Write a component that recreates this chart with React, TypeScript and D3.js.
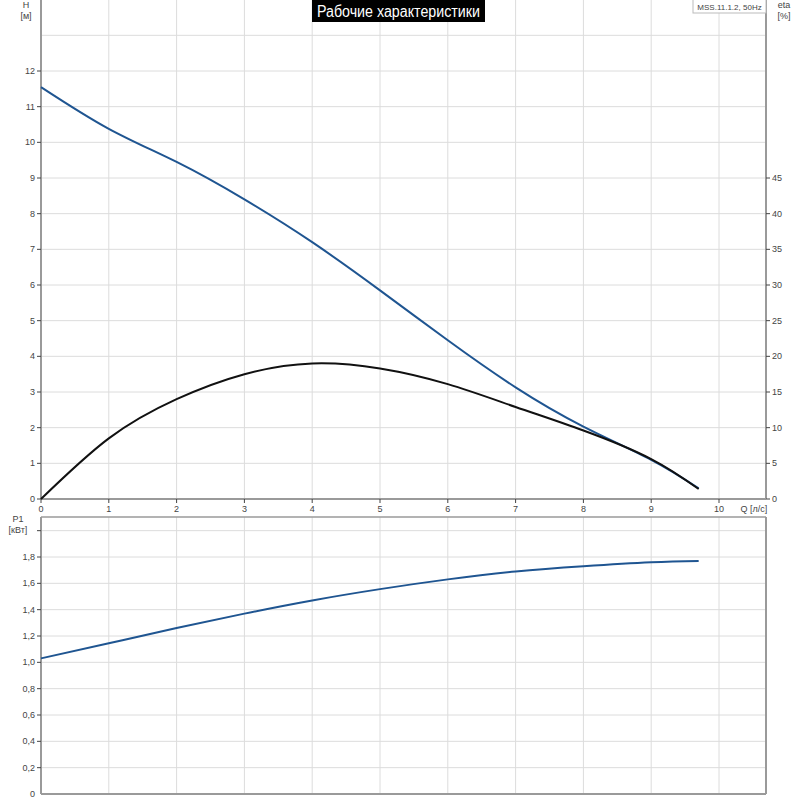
import React from "react";
import * as d3 from "d3";

const qValues = [0, 1, 2, 3, 4, 5, 6, 7, 8, 9, 9.7];
const headValues = [11.55, 10.38, 9.45, 8.4, 7.2, 5.85, 4.45, 3.13, 2.03, 1.1, 0.3];
const etaValues = [0, 8.5, 14.0, 17.5, 19.0, 18.3, 16.1, 12.9, 9.6, 5.6, 1.4];
const p1Values = [1.03, 1.145, 1.26, 1.37, 1.47, 1.556, 1.63, 1.69, 1.73, 1.76, 1.77];

const qTicks = [0, 1, 2, 3, 4, 5, 6, 7, 8, 9, 10];
const hTicks = [0, 1, 2, 3, 4, 5, 6, 7, 8, 9, 10, 11, 12];
const hGrid = [1, 2, 3, 4, 5, 6, 7, 8, 9, 10, 11, 12, 13];
const etaTicks = [0, 5, 10, 15, 20, 25, 30, 35, 40, 45];
const p1Ticks = [0, 0.2, 0.4, 0.6, 0.8, 1.0, 1.2, 1.4, 1.6, 1.8];
const p1Grid = [0.2, 0.4, 0.6, 0.8, 1.0, 1.2, 1.4, 1.6, 1.8, 2.0];

const titleText = "Рабочие характеристики";
const legendText = "MSS.11.1.2, 50Hz";

export default function App() {
  const left = 41;
  const right = 766;
  const x = d3.scaleLinear().domain([0, 10]).range([left, 719]);
  const yH = d3.scaleLinear().domain([0, 12]).range([499, 71]);
  const yEta = d3.scaleLinear().domain([0, 60]).range([499, 71]);
  const yP = d3.scaleLinear().domain([0, 1.8]).range([794, 557]);
  const topTop = 0;
  const botTop = 517;

  const grid = "#dcdcdc";
  const axis = "#9a9a9a";
  const txt = "#444";
  const fs = 9;
  const font = "Liberation Sans, Arial, sans-serif";

  const curve = d3.curveNatural;
  const lineH = d3.line<number>().x((_, i) => x(qValues[i])).y((d) => yH(d)).curve(curve);
  const lineEta = d3.line<number>().x((_, i) => x(qValues[i])).y((d) => yEta(d)).curve(curve);
  const lineP = d3.line<number>().x((_, i) => x(qValues[i])).y((d) => yP(d)).curve(curve);

  const fmt = (v: number) => (v === 0 ? "0" : v.toFixed(1).replace(".", ","));

  return (
    <svg width={800} height={800} style={{ position: "absolute", left: 0, top: 0 }} fontFamily={font}>
      <rect x={0} y={0} width={800} height={800} fill="#fff" />
      {qTicks.filter((q) => q > 0).map((q) => (
        <line key={"vg" + q} x1={x(q)} x2={x(q)} y1={topTop} y2={499} stroke={grid} strokeWidth={1} />
      ))}
      {hGrid.map((h) => (
        <line key={"hg" + h} x1={left} x2={right} y1={yH(h)} y2={yH(h)} stroke={grid} strokeWidth={1} />
      ))}
      {qTicks.filter((q) => q > 0).map((q) => (
        <line key={"vgb" + q} x1={x(q)} x2={x(q)} y1={botTop} y2={794} stroke={grid} strokeWidth={1} />
      ))}
      {p1Grid.map((p) => (
        <line key={"pg" + p} x1={left} x2={right} y1={yP(p)} y2={yP(p)} stroke={grid} strokeWidth={1} />
      ))}
      <line x1={left} x2={right} y1={botTop} y2={botTop} stroke={axis} strokeWidth={1.5} />

      <line x1={left} x2={left} y1={topTop} y2={499} stroke={axis} strokeWidth={2} />
      <line x1={right} x2={right} y1={topTop} y2={499} stroke={axis} strokeWidth={2} />
      <line x1={left} x2={right} y1={499} y2={499} stroke={axis} strokeWidth={2} />
      <line x1={left} x2={left} y1={botTop} y2={794} stroke={axis} strokeWidth={2} />
      <line x1={right} x2={right} y1={botTop} y2={794} stroke={axis} strokeWidth={2} />
      <line x1={left} x2={right} y1={794} y2={794} stroke={axis} strokeWidth={2} />

      {hTicks.map((h) => (
        <g key={"ht" + h}>
          <line x1={left - 4} x2={left} y1={yH(h)} y2={yH(h)} stroke={txt} strokeWidth={1} />
          <text x={left - 6} y={yH(h) + 3} fontSize={fs} textAnchor="end" fill={txt}>{h}</text>
        </g>
      ))}
      {etaTicks.map((e) => (
        <g key={"et" + e}>
          <line x1={right} x2={right + 4} y1={yEta(e)} y2={yEta(e)} stroke={txt} strokeWidth={1} />
          <text x={right + 6} y={yEta(e) + 3} fontSize={fs} textAnchor="start" fill={txt}>{e}</text>
        </g>
      ))}
      {qTicks.map((q) => (
        <g key={"qt" + q}>
          <line x1={x(q)} x2={x(q)} y1={499} y2={503} stroke={txt} strokeWidth={1} />
          <text x={x(q)} y={512} fontSize={fs} textAnchor="middle" fill={txt}>{q}</text>
        </g>
      ))}
      <text x={754} y={512} fontSize={fs} textAnchor="middle" fill={txt}>Q [л/с]</text>
      {p1Grid.map((p) => (
        <line key={"pt" + p} x1={left - 4} x2={left} y1={yP(p)} y2={yP(p)} stroke={txt} strokeWidth={1} />
      ))}
      {p1Ticks.map((p) => (
        <text key={"ptl" + p} x={left - 6} y={yP(p) + 3} fontSize={fs} textAnchor="end" fill={txt}>{fmt(p)}</text>
      ))}

      <text x={26} y={8} fontSize={fs} textAnchor="middle" fill={txt}>H</text>
      <text x={26} y={19} fontSize={fs} textAnchor="middle" fill={txt}>[м]</text>
      <text x={784} y={8} fontSize={fs} textAnchor="middle" fill={txt}>eta</text>
      <text x={784} y={19} fontSize={fs} textAnchor="middle" fill={txt}>[%]</text>
      <text x={18} y={522} fontSize={fs} textAnchor="middle" fill={txt}>P1</text>
      <text x={18} y={533} fontSize={fs} textAnchor="middle" fill={txt}>[кВт]</text>

      <path d={lineH(headValues) || ""} fill="none" stroke="#1f5591" strokeWidth={2} />
      <path d={lineEta(etaValues) || ""} fill="none" stroke="#111" strokeWidth={2} />
      <path d={lineP(p1Values) || ""} fill="none" stroke="#1f5591" strokeWidth={2} />

      <rect x={312} y={0} width={173} height={22} fill="#000" />
      <text x={398.5} y={17} fontSize={16} textAnchor="middle" fill="#fff" textLength={163}
        lengthAdjust="spacingAndGlyphs" fontWeight={500} fontFamily="'Liberation Sans', Arial, sans-serif">{titleText}</text>

      <rect x={693} y={-1} width={73} height={14} fill="#fff" stroke="#bbb" strokeWidth={1} />
      <text x={729.5} y={9.5} fontSize={8} textAnchor="middle" fill={txt}>{legendText}</text>
    </svg>
  );
}
